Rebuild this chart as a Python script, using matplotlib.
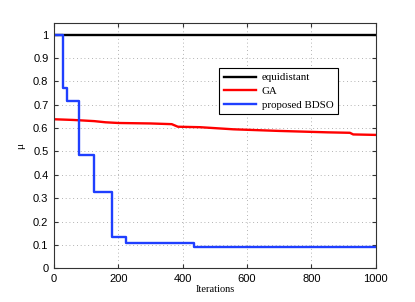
import numpy as np
from matplotlib import pyplot as plt

# iteration breakpoints
it_equi = [0, 1000]
mu_equi = [1.0, 1.0]

it_ga = [0, 60, 125, 160, 200, 300, 366, 385, 454, 557, 700, 850, 920, 930, 1000]
mu_ga = [0.638, 0.635, 0.630, 0.625, 0.622, 0.620, 0.617, 0.606, 0.604, 0.595, 0.588, 0.582, 0.580, 0.573, 0.571]

# step function for BDSO (value holds until next breakpoint)
it_bdso = [0, 29, 39, 77, 123, 181, 224, 436, 1000]
mu_bdso = [1.0, 0.77, 0.715, 0.485, 0.327, 0.135, 0.11, 0.093, 0.093]

fig = plt.figure(figsize=(4.15, 3.02), dpi=100)
ax = fig.add_axes([54/415, 1 - 268.3/302, (375.7-54)/415, (268.3-23)/302])

ax.plot(it_equi, mu_equi, color='black', lw=1.7, label='equidistant')
ax.plot(it_ga, mu_ga, color='#ff0000', lw=1.7, label='GA')
ax.step(it_bdso, mu_bdso, where='post', color='#1f3fff', lw=1.7, label='proposed BDSO')

ax.set_xlim(0, 1000)
ax.set_ylim(0, 1.05)
ax.set_xticks(np.arange(0, 1001, 200))
ax.set_yticks(np.arange(0, 1.01, 0.1))
ax.set_yticklabels(['0', '0.1', '0.2', '0.3', '0.4', '0.5', '0.6', '0.7', '0.8', '0.9', '1'])
ax.grid(True, linestyle=(0, (1, 3.5)), color='#999999', lw=0.6)
ax.tick_params(direction='in', labelsize=8, length=3, color='#333333', top=True, right=True,
               labeltop=False, labelright=False, pad=4)
for lab in ax.get_xticklabels() + ax.get_yticklabels():
    lab.set_family('Liberation Sans')
for s in ax.spines.values():
    s.set_color('#333333')
    s.set_linewidth(0.8)

ax.set_xlabel('Iterations', family='Liberation Serif', fontsize=7.5, labelpad=1)
ax.set_ylabel('μ', family='Liberation Serif', fontsize=8, labelpad=6)

leg = ax.legend(loc='upper left', bbox_to_anchor=((214-54)/321.7, (268.3-63)/245.3),
                prop={'family': 'Liberation Serif', 'size': 7.8}, fancybox=False,
                framealpha=1, edgecolor='black', handlelength=3.0, borderpad=0.4,
                labelspacing=0.4, handletextpad=0.5)
leg.get_frame().set_linewidth(0.8)

fig.savefig('out.png', dpi=100)
